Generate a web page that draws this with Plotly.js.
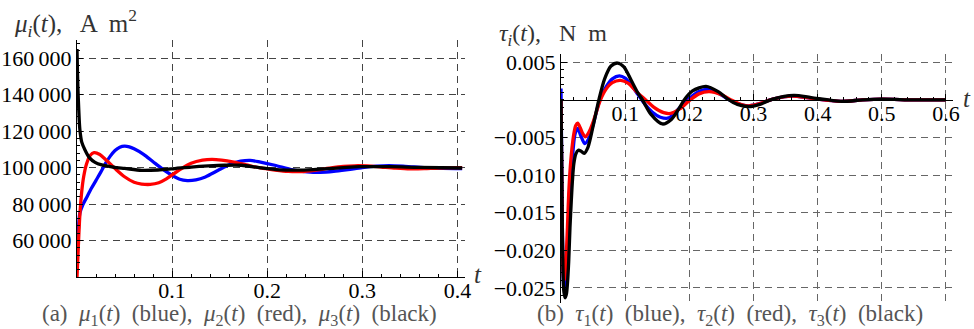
<!DOCTYPE html>
<html><head><meta charset="utf-8">
<script src="https://cdn.plot.ly/plotly-3.0.1.min.js"></script>
<style>html,body{margin:0;padding:0;background:#fff}#chart{width:974px;height:329px}</style>
</head><body><div id="chart"></div><script>
// ---- (a) magnetic dipole moments, A m^2 ----
const tMu1 = [0, 0.001, 0.003, 0.006, 0.01, 0.015, 0.02, 0.025, 0.03, 0.035, 0.04, 0.045, 0.05, 0.055, 0.06, 0.07, 0.08, 0.09, 0.1, 0.108, 0.116, 0.125, 0.135, 0.148, 0.16, 0.172, 0.182, 0.193, 0.208, 0.227, 0.242, 0.256, 0.27, 0.285, 0.3, 0.315, 0.328, 0.345, 0.365, 0.385, 0.405];
const mu1  = [48000, 62000, 75000, 79500, 83500, 88500, 93000, 97500, 102300, 106300, 109400, 111200, 111800, 111400, 110300, 107300, 103200, 99200, 95800, 93600, 92900, 93300, 94900, 98400, 101600, 103500, 104000, 103000, 101300, 98800, 97700, 97400, 97900, 98900, 100000, 100800, 101100, 100700, 100000, 99600, 99500];
const tMu2 = [0, 0.001, 0.002, 0.003, 0.005, 0.007, 0.01, 0.014, 0.018, 0.024, 0.03, 0.04, 0.05, 0.06, 0.068, 0.077, 0.086, 0.094, 0.1, 0.11, 0.12, 0.132, 0.142, 0.152, 0.165, 0.178, 0.193, 0.208, 0.222, 0.235, 0.25, 0.265, 0.28, 0.292, 0.305, 0.32, 0.335, 0.35, 0.365, 0.38, 0.405];
const mu2  = [40000, 52000, 64000, 74000, 87000, 95000, 102000, 106800, 108200, 107200, 104500, 99500, 95000, 92000, 91000, 90800, 91700, 93800, 96000, 99500, 102400, 104100, 104500, 104100, 103000, 101500, 99800, 98700, 97900, 97800, 98500, 99700, 100700, 101000, 100900, 100300, 99700, 99300, 99400, 99800, 100000];
const tMu3 = [0, 0.0005, 0.001, 0.002, 0.003, 0.005, 0.0084, 0.013, 0.019, 0.026, 0.033, 0.042, 0.05, 0.068, 0.085, 0.103, 0.12, 0.138, 0.155, 0.173, 0.193, 0.213, 0.235, 0.26, 0.28, 0.298, 0.33, 0.36, 0.405];
const mu3  = [165000, 152000, 143000, 130000, 121000, 114000, 109700, 105500, 102900, 101500, 100800, 100000, 99600, 98500, 98700, 99500, 100300, 100900, 101300, 101300, 99900, 98800, 98600, 99300, 100000, 100500, 100500, 100100, 99800];
const muTickVals = [60000, 80000, 100000, 120000, 140000, 160000];
const muTickText = ['60\u2009000', '80\u2009000', '100\u2009000', '120\u2009000', '140\u2009000', '160\u2009000'];
const tTickValsA = [0.1, 0.2, 0.3, 0.4];
const tTickTextA = ['0.1', '0.2', '0.3', '0.4'];

// ---- (b) torques, N m ----
const tTau1 = [0, 0.001, 0.002, 0.003, 0.0045, 0.0065, 0.0085, 0.011, 0.013, 0.016, 0.019, 0.022, 0.026, 0.031, 0.037, 0.043, 0.05, 0.0605, 0.07, 0.08, 0.091, 0.1, 0.11, 0.12, 0.131, 0.142, 0.155, 0.168, 0.18, 0.19, 0.2, 0.215, 0.228, 0.245, 0.26, 0.275, 0.29, 0.305, 0.33, 0.36, 0.39, 0.435, 0.47, 0.5, 0.55, 0.6];
const tau1  = [0.0015, -0.007, -0.016, -0.022, -0.025, -0.0255, -0.0235, -0.019, -0.015, -0.0105, -0.0065, -0.0045, -0.0038, -0.0048, -0.0058, -0.0052, -0.0033, 0, 0.0017, 0.0028, 0.0032, 0.0029, 0.0019, 0.0007, -0.0006, -0.0016, -0.0023, -0.0024, -0.0015, -0.0006, 0.0002, 0.0011, 0.0014, 0.0009, 0.0001, -0.0005, -0.0008, -0.0006, 0.0001, 0.0005, 0.0002, -0.0002, 0, 0.0001, 0, 0];
const tTau2 = [0, 0.001, 0.002, 0.003, 0.0045, 0.006, 0.008, 0.010, 0.012, 0.014, 0.017, 0.020, 0.023, 0.026, 0.030, 0.034, 0.038, 0.044, 0.051, 0.0615, 0.07, 0.08, 0.093, 0.105, 0.12, 0.132, 0.145, 0.16, 0.171, 0.185, 0.2, 0.215, 0.231, 0.25, 0.265, 0.28, 0.29, 0.305, 0.33, 0.36, 0.39, 0.435, 0.47, 0.5, 0.55, 0.6];
const tau2  = [0, -0.009, -0.017, -0.022, -0.024, -0.0235, -0.021, -0.017, -0.0125, -0.0095, -0.0065, -0.0045, -0.0034, -0.0031, -0.0037, -0.0045, -0.0049, -0.0042, -0.0027, 0, 0.0014, 0.0023, 0.0026, 0.0022, 0.0009, 0, -0.001, -0.0017, -0.0018, -0.0012, -0.0001, 0.0008, 0.0011, 0.0007, 0, -0.0006, -0.0008, -0.0006, 0.0001, 0.0005, 0.0002, -0.0002, 0, 0.0001, 0, 0];
const tTau3 = [0, 0.001, 0.002, 0.003, 0.0045, 0.0065, 0.0085, 0.010, 0.012, 0.014, 0.016, 0.018, 0.020, 0.023, 0.027, 0.031, 0.036, 0.042, 0.05, 0.059, 0.068, 0.078, 0.088, 0.098, 0.11, 0.12, 0.127, 0.14, 0.158, 0.172, 0.185, 0.192, 0.205, 0.226, 0.245, 0.26, 0.275, 0.293, 0.31, 0.33, 0.363, 0.39, 0.437, 0.47, 0.5, 0.55, 0.6];
const tau3  = [0, -0.008, -0.016, -0.022, -0.0255, -0.0263, -0.0258, -0.0245, -0.0215, -0.017, -0.0135, -0.0105, -0.0085, -0.0072, -0.0067, -0.0068, -0.0071, -0.0063, -0.0035, 0, 0.0028, 0.0045, 0.0049, 0.0044, 0.0025, 0.0009, 0, -0.0019, -0.0032, -0.0026, -0.001, 0, 0.0012, 0.0018, 0.0011, 0.0001, -0.0006, -0.0009, -0.0006, 0.0001, 0.0006, 0.0003, -0.0002, 0, 0.0001, 0, 0];
const tauTickVals = [-0.025, -0.02, -0.015, -0.01, -0.005, 0.005];
const tauTickText = ['\u22120.025', '\u22120.020', '\u22120.015', '\u22120.010', '\u22120.005', '0.005'];
const tTickValsB = [0.1, 0.2, 0.3, 0.4, 0.5, 0.6];
const tTickTextB = ['0.1', '0.2', '0.3', '0.4', '0.5', '0.6'];

const FONT = 'Liberation Serif';
const LW = 3.3;
function tr(x, y, color, xa, ya) {
  return {x: x, y: y, xaxis: xa, yaxis: ya, type: 'scatter', mode: 'lines',
          line: {color: color, width: LW, shape: 'spline', smoothing: 0.8}, hoverinfo: 'skip', showlegend: false};
}
const data = [
  tr(tMu1, mu1, '#0000ff', 'x', 'y'),
  tr(tMu2, mu2, '#ff0000', 'x', 'y'),
  tr(tMu3, mu3, '#000000', 'x', 'y'),
  tr(tTau1, tau1, '#0000ff', 'x2', 'y2'),
  tr(tTau2, tau2, '#ff0000', 'x2', 'y2'),
  tr(tTau3, tau3, '#000000', 'x2', 'y2')
];
const tickfont = {family: FONT, size: 22, color: '#000'};
function ax(extra) {
  return Object.assign({
    showline: true, linecolor: '#000', linewidth: 1, mirror: false,
    ticks: 'inside', ticklen: 6, tickcolor: '#000', tickwidth: 1,
    tickmode: 'array', tickfont: tickfont,
    showgrid: true, gridcolor: '#444', gridwidth: 1, griddash: '7px,5px',
    zeroline: false, fixedrange: true
  }, extra);
}
const layout = {
  width: 974, height: 329,
  margin: {l: 0, r: 0, t: 0, b: 0},
  paper_bgcolor: '#fff', plot_bgcolor: 'rgba(0,0,0,0)',
  font: {family: FONT},
  xaxis: ax({domain: [77/974, 465/974], range: [0, 0.408], anchor: 'y',
    tickvals: tTickValsA, ticktext: tTickTextA, ticklabelstandoff: -6,
    minor: {tickmode: 'linear', tick0: 0, dtick: 0.02, ticks: 'inside', ticklen: 3, tickcolor: '#000', showgrid: false}}),
  yaxis: ax({domain: [52/329, 289/329], range: [40000, 170000], anchor: 'x',
    tickvals: muTickVals, ticktext: muTickText,
    minor: {tickmode: 'linear', tick0: 0, dtick: 4000, ticks: 'inside', ticklen: 3, tickcolor: '#000', showgrid: false}}),
  xaxis2: ax({domain: [561/974, 953/974], range: [0, 0.611], anchor: 'free', position: 229/329,
    tickvals: tTickValsB, ticktext: tTickTextB, gridcolor: '#666', ticklabelstandoff: -6,
    minor: {tickmode: 'linear', tick0: 0, dtick: 0.02, ticks: 'inside', ticklen: 3, tickcolor: '#000', showgrid: false}}),
  yaxis2: ax({domain: [26/329, 275/329], range: [-0.027, 0.0061], anchor: 'x2',
    tickvals: tauTickVals, ticktext: tauTickText, gridcolor: '#666',
    minor: {tickmode: 'linear', tick0: 0, dtick: 0.001, ticks: 'inside', ticklen: 3, tickcolor: '#000', showgrid: false}}),
  annotations: [
    {text: '<i>μ</i><sub><i>i</i></sub>(<i>t</i>),   A  m<sup>2</sup>', xref: 'paper', yref: 'paper',
     x: 12/974, y: 1 - 23/329, xanchor: 'left', yanchor: 'middle', showarrow: false,
     font: {family: FONT, size: 25, color: '#333'}},
    {text: '<i>τ</i><sub><i>i</i></sub>(<i>t</i>),   N  m', xref: 'paper', yref: 'paper',
     x: 497/974, y: 1 - 35/329, xanchor: 'left', yanchor: 'middle', showarrow: false,
     font: {family: FONT, size: 24, color: '#333'}},
    {text: '<i>t</i>', xref: 'paper', yref: 'paper', x: 478/974, y: 1 - 274/329,
     xanchor: 'center', yanchor: 'middle', showarrow: false, font: {family: FONT, size: 25, color: '#333'}},
    {text: '<i>t</i>', xref: 'paper', yref: 'paper', x: 967/974, y: 1 - 98/329,
     xanchor: 'center', yanchor: 'middle', showarrow: false, font: {family: FONT, size: 25, color: '#333'}},
    {text: '(a)  <i>μ</i><sub>1</sub>(<i>t</i>)  (blue),  <i>μ</i><sub>2</sub>(<i>t</i>)  (red),  <i>μ</i><sub>3</sub>(<i>t</i>)  (black)',
     xref: 'paper', yref: 'paper', x: 239/974, y: 1 - 315/329, xanchor: 'center', yanchor: 'middle', showarrow: false,
     font: {family: FONT, size: 23, color: '#555'}},
    {text: '(b)  <i>τ</i><sub>1</sub>(<i>t</i>)  (blue),  <i>τ</i><sub>2</sub>(<i>t</i>)  (red),  <i>τ</i><sub>3</sub>(<i>t</i>)  (black)',
     xref: 'paper', yref: 'paper', x: 730/974, y: 1 - 315/329, xanchor: 'center', yanchor: 'middle', showarrow: false,
     font: {family: FONT, size: 23, color: '#555'}}
  ]
};
Plotly.newPlot('chart', data, layout, {staticPlot: true, displayModeBar: false});
</script></body></html>
